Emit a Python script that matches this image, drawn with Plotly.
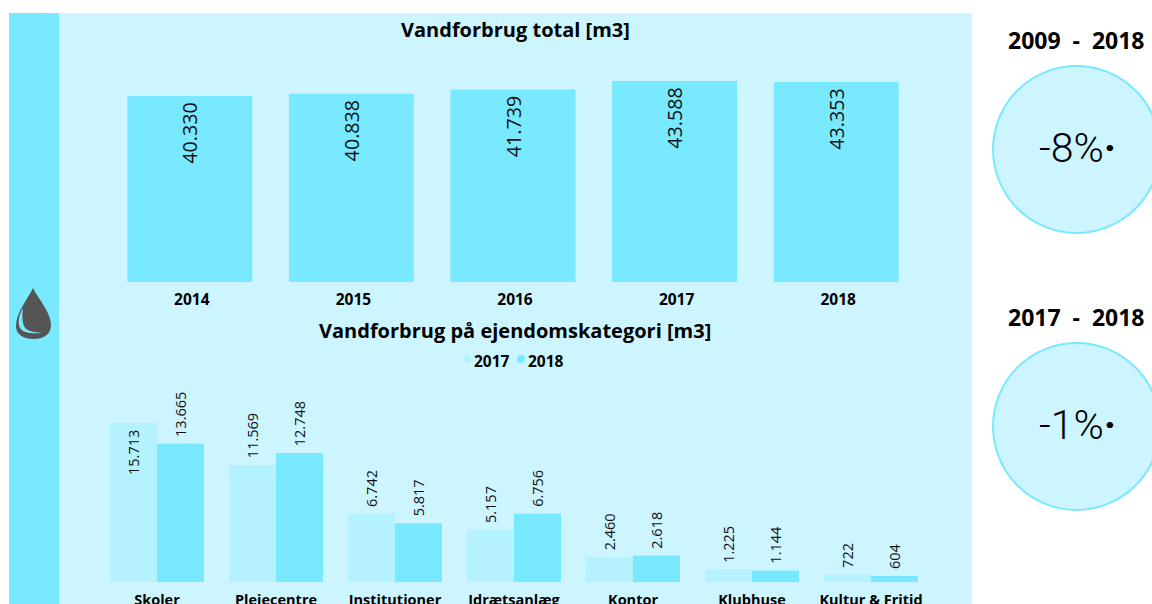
import plotly.graph_objects as go

W, H = 1152, 604
years = ["2014", "2015", "2016", "2017", "2018"]
total = [40330, 40838, 41739, 43588, 43353]
categories = ["Skoler", "Plejecentre", "Institutioner", "Idrætsanlæg", "Kontor", "Klubhuse", "Kultur & Fritid"]
v2017 = [15713, 11569, 6742, 5157, 2460, 1225, 722]
v2018 = [13665, 12748, 5817, 6756, 2618, 1144, 604]
pos2017 = ["inside", "outside", "outside", "outside", "outside", "outside", "outside"]

PANEL = "#CCF5FF"
BAND = "#78E9FF"
C17 = "#B5F2FF"
C18 = "#78E9FF"
FONT = "Open Sans"
OUT = "&nbsp;%{y:,.0f}"
INS = "%{y:,.0f}&nbsp;"
INS_TOP = "%{y:,.0f}\u2009"

def px(x): return x / W
def py(y): return 1 - y / H
def path(cmds):
    out = []
    for c in cmds:
        if c[0] == "Z":
            out.append("Z")
        else:
            nums = c[1:]
            pts = " ".join(f"{px(nums[i]):.5f},{py(nums[i+1]):.5f}" for i in range(0, len(nums), 2))
            out.append(c[0] + " " + pts)
    return " ".join(out)

fig = go.Figure()
fig.add_bar(x=years, y=total, xaxis="x", yaxis="y", marker_color=C18, marker_line_width=0,
            texttemplate=INS_TOP, textposition="inside", insidetextanchor="end", textangle=-90,
            constraintext="none", textfont=dict(size=19.7, color="#111", family=FONT), showlegend=False,
            width=0.773)
fig.add_bar(x=categories, y=v2017, name="2017", xaxis="x2", yaxis="y2", marker_color=C17, marker_line_width=0,
            texttemplate=[INS if p == "inside" else OUT for p in pos2017], textposition=pos2017,
            insidetextanchor="end", textangle=-90,
            constraintext="none", cliponaxis=False, textfont=dict(size=14.5, color="#111", family=FONT), showlegend=False)
fig.add_bar(x=categories, y=v2018, name="2018", xaxis="x2", yaxis="y2", marker_color=C18, marker_line_width=0,
            texttemplate=OUT, textposition="outside", textangle=-90,
            constraintext="none", cliponaxis=False, textfont=dict(size=14.5, color="#111", family=FONT), showlegend=False)

shapes = [
    dict(type="rect", xref="paper", yref="paper", x0=px(9), x1=px(972), y0=py(13), y1=0, fillcolor=PANEL, line_width=0, layer="below"),
    dict(type="rect", xref="paper", yref="paper", x0=px(9), x1=px(59), y0=py(13), y1=0, fillcolor=BAND, line_width=0, layer="below"),
    dict(type="path", xref="paper", yref="paper", fillcolor="#555555", line_width=0, layer="above",
         path=path([("M", 33, 288), ("C", 28, 299, 16, 312, 16, 326), ("C", 16, 335, 24, 339, 34, 339),
                    ("C", 44, 339, 51, 334, 51, 325), ("C", 51, 312, 38, 299, 33, 288), ("Z",)])),
    dict(type="path", xref="paper", yref="paper", fillcolor=BAND, line_width=0, layer="above",
         path=path([("M", 23, 308), ("C", 18, 316, 18, 324, 20, 328), ("C", 23, 333, 32, 334, 42, 333),
                    ("C", 33, 332, 26, 331, 24, 326), ("C", 22, 321, 22, 314, 23, 308), ("Z",)])),
]
for cy in (149.5, 426.5):
    shapes.append(dict(type="circle", xref="paper", yref="paper", x0=px(993), x1=px(1160), y0=py(cy + 83.5), y1=py(cy - 83.5),
                       fillcolor=PANEL, line=dict(color=BAND, width=2), layer="below"))
for cx, col in ((467, C17), (521, C18)):
    shapes.append(dict(type="circle", xref="paper", yref="paper", x0=px(cx - 4), x1=px(cx + 4), y0=py(363), y1=py(355),
                       fillcolor=col, line_width=0, layer="below"))

def note(x, y, text, size, bold=True, family=FONT, weight=None):
    t = f"<b>{text}</b>" if bold else text
    f = dict(size=size, color="#000", family=family)
    if weight:
        f["weight"] = weight
    return dict(xref="paper", yref="paper", x=px(x), y=py(y), text=t, showarrow=False, xanchor="center", yanchor="middle", font=f)

annotations = [
    note(515, 29.5, "Vandforbrug total [m3]", 20),
    note(515, 330, "Vandforbrug på ejendomskategori [m3]", 20),
    note(492, 361, "2017", 15.5),
    note(546, 361, "2018", 15.5),
    note(1076, 40, "2009&nbsp; - &nbsp;2018", 23),
    note(1076, 317, "2017&nbsp; - &nbsp;2018", 23),
    note(1077, 148, "-8%<b>·</b>", 41, bold=False, family="Roboto", weight=300),
    note(1077, 425, "-1%<b>·</b>", 41, bold=False, family="Roboto", weight=300),
]

tick_top = dict(size=15.5, color="#000", family=FONT)
tick_bot = dict(size=14.5, color="#000", family=FONT)
fig.update_layout(
    width=W, height=H, margin=dict(l=0, r=0, t=0, b=0, autoexpand=False), autosize=False,
    paper_bgcolor="#FFFFFF", plot_bgcolor="rgba(0,0,0,0)",
    separators=",.", barmode="group", bargap=0.21, bargroupgap=0,
    font=dict(family=FONT),
    shapes=shapes, annotations=annotations,
    xaxis=dict(domain=[px(109), px(917)], anchor="y", showgrid=False, zeroline=False, showline=False, ticks="", automargin=False,
               tickfont=tick_top, tickprefix="<b>", ticksuffix="</b>", type="category", ticklabelstandoff=6, ticklabelshift=2),
    yaxis=dict(domain=[py(282), py(60)], range=[0, 48135], visible=False),
    xaxis2=dict(domain=[px(97.5), px(930.5)], anchor="y2", showgrid=False, zeroline=False, showline=False, ticks="", automargin=False,
                tickfont=tick_bot, tickprefix="<b>", ticksuffix="</b>", type="category", ticklabelstandoff=7),
    yaxis2=dict(domain=[py(582), py(380)], range=[0, 19960], visible=False),
)
fig.write_html("out.html", post_script="document.body.style.margin='0';document.body.style.overflow='hidden';",
               config=dict(displayModeBar=False))
